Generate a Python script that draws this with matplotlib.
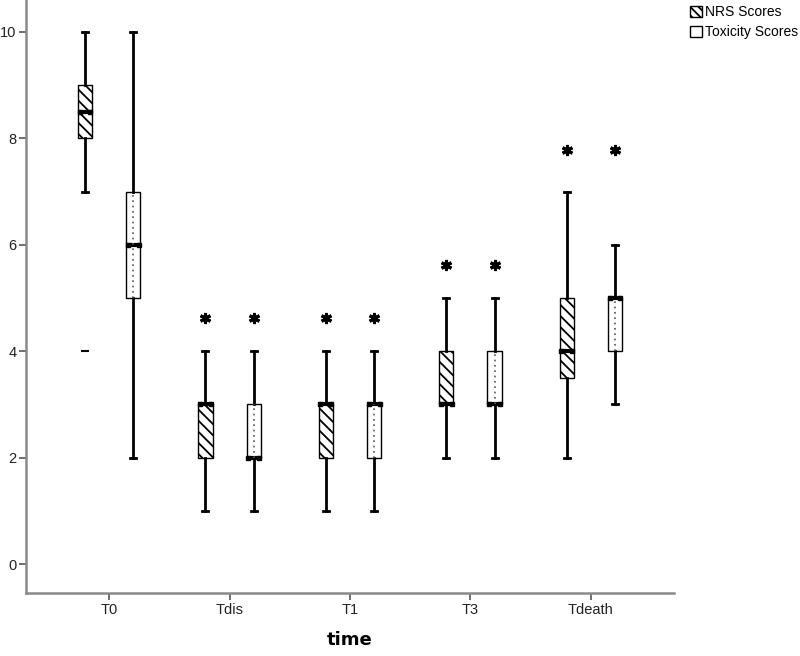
"""SPSS-style grouped boxplot: NRS and toxicity scores over time."""

import matplotlib

matplotlib.use("Agg")
import matplotlib.pyplot as plt
from matplotlib.patches import Patch

plt.rcParams["font.family"] = ["Liberation Sans", "DejaVu Sans"]
plt.rcParams["hatch.linewidth"] = 1.3

# %% Data
times = ["T0", "Tdis", "T1", "T3", "Tdeath"]

nrs_low = [7, 1, 1, 2, 2]
nrs_q1 = [8, 2, 2, 3, 3.5]
nrs_med = [8.5, 3, 3, 3, 4]
nrs_q3 = [9, 3, 3, 4, 5]
nrs_high = [10, 4, 4, 5, 7]
nrs_outliers = [[4], [], [], [], []]

tox_low = [2, 1, 1, 2, 3]
tox_q1 = [5, 2, 2, 3, 4]
tox_med = [6, 2, 3, 3, 5]
tox_q3 = [7, 3, 3, 4, 5]
tox_high = [10, 4, 4, 5, 6]
tox_outliers = [[], [], [], [], []]

# significance stars (None = no star)
nrs_star = [None, 4.62, 4.62, 5.62, 7.78]
tox_star = [None, 4.62, 4.62, 5.62, 7.78]


def make_stats(low, q1, med, q3, high, fliers):
    return [
        {"whislo": lo, "q1": a, "med": m, "q3": b, "whishi": hi, "fliers": f}
        for lo, a, m, b, hi, f in zip(low, q1, med, q3, high, fliers)
    ]


# %% Plot
fig = plt.figure(figsize=(8, 6.56), dpi=100)
ax = fig.add_axes([0.0325, 0.096, 0.81, 0.904])

offset = 0.2
width = 0.117
pos = list(range(len(times)))

common = dict(
    widths=width,
    patch_artist=True,
    whiskerprops=dict(color="black", linewidth=2),
    capprops=dict(color="black", linewidth=2),
    medianprops=dict(color="black", linewidth=3),
    capwidths=0.05,
)

ax.bxp(
    make_stats(nrs_low, nrs_q1, nrs_med, nrs_q3, nrs_high, nrs_outliers),
    positions=[p - offset for p in pos],
    boxprops=dict(facecolor="white", edgecolor="black", linewidth=1, hatch="\\\\\\"),
    flierprops=dict(marker="_", markersize=6, markeredgecolor="black",
                    markeredgewidth=1.5),
    **common,
)
ax.bxp(
    make_stats(tox_low, tox_q1, tox_med, tox_q3, tox_high, tox_outliers),
    positions=[p + offset for p in pos],
    boxprops=dict(facecolor="white", edgecolor="black", linewidth=1),
    **common,
)

# dotted centre line for the toxicity boxes
for p, a, b in zip(pos, tox_q1, tox_q3):
    ax.plot([p + offset, p + offset], [a, b], color="#555555", linestyle=(0, (1, 2.2)),
            linewidth=1.2, zorder=3)

# median end dots
for p, m in zip(pos, nrs_med):
    ax.plot([p - offset - width / 2.6, p - offset + width / 2.6], [m, m], "s",
            color="black", markersize=3.5, zorder=4)
for p, m in zip(pos, tox_med):
    ax.plot([p + offset - width / 2.6, p + offset + width / 2.6], [m, m], "s",
            color="black", markersize=3.5, zorder=4)

# stars
for p, s in zip(pos, nrs_star):
    if s is not None:
        ax.plot(p - offset, s, marker=(6, 2, 0), color="black", markersize=8,
                markeredgewidth=2.2)
for p, s in zip(pos, tox_star):
    if s is not None:
        ax.plot(p + offset, s, marker=(6, 2, 0), color="black", markersize=8,
                markeredgewidth=2.2)

ax.set_xlim(-0.69, 4.69)
ax.set_ylim(-0.545, 10.6)
ax.set_xticks(pos)
ax.set_xticklabels(times)
ax.set_yticks([0, 2, 4, 6, 8, 10])
ax.tick_params(axis="both", labelsize=10.5, length=5, width=1.2, color="#555555",
               labelcolor="#222222", pad=2)

for side in ("top", "right"):
    ax.spines[side].set_visible(False)
for side in ("left", "bottom"):
    ax.spines[side].set_color("#8a8a8a")
    ax.spines[side].set_linewidth(1.8)

ax.set_xlabel("time", fontsize=13, fontweight="bold", family=["DejaVu Sans"],
              labelpad=10)

handles = [
    Patch(facecolor="white", edgecolor="black", hatch="\\\\\\\\", label="NRS Scores"),
    Patch(facecolor="white", edgecolor="black", hatch=":", label="Toxicity Scores"),
]
fig.legend(handles=handles, loc="upper right", bbox_to_anchor=(0.998, 0.992),
           frameon=False, fontsize=10, handlelength=0.9, handleheight=0.9,
           handletextpad=0.2, labelspacing=0.45, borderpad=0.0, borderaxespad=0.0)

fig.savefig("out.png", dpi=100)
